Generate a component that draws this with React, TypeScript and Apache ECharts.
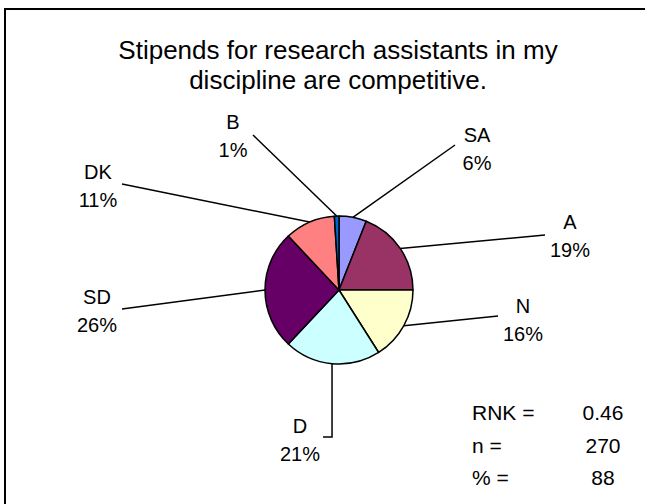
import React, { useEffect, useRef } from 'react';
import * as echarts from 'echarts';

const categories = ['SA', 'A', 'N', 'D', 'SD', 'DK', 'B'];
const values = [6, 19, 16, 21, 26, 11, 1];
const titleLines = ['Stipends for research assistants in my', 'discipline are competitive.'];
const statLabels = ['RNK =', 'n =', '% ='];
const statValues = ['0.46', '270', '88'];

const colors = ['#9999FF', '#993366', '#FFFFCC', '#CCFFFF', '#660066', '#FF8080', '#0066CC'];
const FONT = '"Liberation Sans", Arial, sans-serif';
const CX = 339;
const CY = 290;
const R = 74;
// label block centres and leader line end points (layout)
const labelPos: [number, number][] = [
  [477, 149], [570, 236], [523, 320], [300, 440], [97, 311], [98, 186], [233, 136],
];
const lineEnds: [number, number][][] = [
  [[455, 145]], [[545, 235]], [[498, 316]], [[-1, 437], [323, 437]], [[122, 309]], [[122, 184]], [[253, 135]],
];
const statRowsY = [412, 445, 477];

export default function App() {
  const ref = useRef<HTMLDivElement>(null);
  useEffect(() => {
    if (!ref.current) return;
    const chart = echarts.init(ref.current, null, { renderer: 'svg' });
    const total = values.reduce((a, b) => a + b, 0);
    const midPoint = (i: number): [number, number] => {
      let cum = 0;
      for (let k = 0; k < i; k++) cum += values[k];
      const frac = (cum + values[i] / 2) / total;
      const ang = Math.PI / 2 - frac * Math.PI * 2;
      return [CX + R * Math.cos(ang), CY - R * Math.sin(ang)];
    };
    const graphics: any[] = [
      {
        type: 'rect',
        shape: { x: 5, y: 9, width: 800, height: 700 },
        style: { fill: 'none', stroke: '#000', lineWidth: 2 },
        silent: true,
      },
    ];
    titleLines.forEach((t, i) => {
      graphics.push({
        type: 'text',
        x: 338,
        y: 50 + i * 30,
        style: { text: t, fontSize: 26, fontFamily: FONT, fill: '#000', align: 'center', verticalAlign: 'middle' },
      });
    });
    statLabels.forEach((t, i) => {
      graphics.push({
        type: 'text',
        x: 472,
        y: statRowsY[i],
        style: { text: t, fontSize: 21, fontFamily: FONT, fill: '#000', align: 'left', verticalAlign: 'middle' },
      });
      graphics.push({
        type: 'text',
        x: 603,
        y: statRowsY[i],
        style: { text: statValues[i], fontSize: 21, fontFamily: FONT, fill: '#000', align: 'center', verticalAlign: 'middle' },
      });
    });
    chart.setOption({
      animation: false,
      backgroundColor: '#fff',
      graphic: graphics,
      series: [
        {
          type: 'pie',
          center: [CX, CY],
          radius: R,
          startAngle: 90,
          clockwise: true,
          avoidLabelOverlap: false,
          itemStyle: { borderColor: '#000', borderWidth: 1.5 },
          label: {
            show: true,
            formatter: (p: any) => `${p.name}\n${p.value}%`,
            fontSize: 20,
            lineHeight: 28,
            fontFamily: FONT,
            color: '#000',
          },
          labelLine: { show: true, lineStyle: { color: '#000', width: 1.5 }, smooth: false },
          labelLayout: (params: any) => {
            const i = params.dataIndex;
            const pts = params.labelLinePoints;
            const start: [number, number] = pts && pts[0] ? [pts[0][0], pts[0][1]] : midPoint(i);
            const ends = lineEnds[i].map((p) => [p[0] < 0 ? start[0] : p[0], p[1]]);
            const points = [start, ...ends];
            while (points.length < 3) points.push(points[points.length - 1]);
            return {
              x: labelPos[i][0],
              y: labelPos[i][1],
              align: 'center',
              verticalAlign: 'middle',
              labelLinePoints: points,
            };
          },
          data: categories.map((c, i) => ({ name: c, value: values[i], itemStyle: { color: colors[i] } })),
        },
      ],
    });
    return () => chart.dispose();
  }, []);
  return <div ref={ref} style={{ position: 'absolute', left: 0, top: 0, width: 645, height: 504 }} />;
}
